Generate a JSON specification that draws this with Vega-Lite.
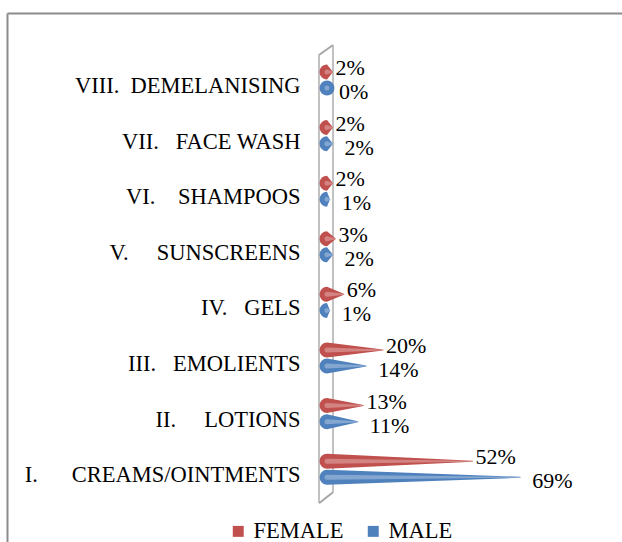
{
  "$schema": "https://vega.github.io/schema/vega-lite/v6.json",
  "autosize": "none",
  "width": 615,
  "height": 529,
  "padding": {"left": 7, "top": 13, "right": 0, "bottom": 0},
  "background": "white",
  "config": {"view": {"stroke": null}, "font": "Liberation Serif", "text": {"font": "Liberation Serif"}},
  "data": {
    "values": [
      {"category": "VIII.\u00a0\u00a0DEMELANISING", "sex": "FEMALE", "value": 0.02},
      {"category": "VIII.\u00a0\u00a0DEMELANISING", "sex": "MALE", "value": 0.0},
      {"category": "VII.\u00a0\u00a0\u00a0FACE WASH", "sex": "FEMALE", "value": 0.02},
      {"category": "VII.\u00a0\u00a0\u00a0FACE WASH", "sex": "MALE", "value": 0.02},
      {"category": "VI.\u00a0\u00a0\u00a0\u00a0SHAMPOOS", "sex": "FEMALE", "value": 0.02},
      {"category": "VI.\u00a0\u00a0\u00a0\u00a0SHAMPOOS", "sex": "MALE", "value": 0.01},
      {"category": "V.\u00a0\u00a0\u00a0\u00a0\u00a0SUNSCREENS", "sex": "FEMALE", "value": 0.03},
      {"category": "V.\u00a0\u00a0\u00a0\u00a0\u00a0SUNSCREENS", "sex": "MALE", "value": 0.02},
      {"category": "IV.\u00a0\u00a0\u00a0GELS", "sex": "FEMALE", "value": 0.06},
      {"category": "IV.\u00a0\u00a0\u00a0GELS", "sex": "MALE", "value": 0.01},
      {"category": "III.\u00a0\u00a0\u00a0EMOLIENTS", "sex": "FEMALE", "value": 0.20},
      {"category": "III.\u00a0\u00a0\u00a0EMOLIENTS", "sex": "MALE", "value": 0.14},
      {"category": "II.\u00a0\u00a0\u00a0\u00a0\u00a0LOTIONS", "sex": "FEMALE", "value": 0.13},
      {"category": "II.\u00a0\u00a0\u00a0\u00a0\u00a0LOTIONS", "sex": "MALE", "value": 0.11},
      {"category": "I.\u00a0\u00a0\u00a0\u00a0\u00a0\u00a0CREAMS/OINTMENTS", "sex": "FEMALE", "value": 0.52},
      {"category": "I.\u00a0\u00a0\u00a0\u00a0\u00a0\u00a0CREAMS/OINTMENTS", "sex": "MALE", "value": 0.69}
    ]
  },
  "layer": [
    {
      "transform": [{"aggregate": [{"op": "count", "as": "n"}]}],
      "mark": {"type": "tick", "orient": "vertical", "color": "#a6a6a6", "thickness": 2, "size": 448, "xOffset": -5, "yOffset": 32},
      "encoding": {
        "x": {"datum": 0, "type": "quantitative", "scale": {"domain": [-1.1321, 1.0643], "nice": false, "zero": false}, "axis": {"orient": "top", "title": null, "labels": false, "ticks": false, "grid": false, "domainColor": "#8c8c8c", "domainWidth": 2}},
        "y": {
          "datum": "V.\u00a0\u00a0\u00a0\u00a0\u00a0SUNSCREENS",
          "type": "nominal",
          "sort": ["VIII.\u00a0\u00a0DEMELANISING", "VII.\u00a0\u00a0\u00a0FACE WASH", "VI.\u00a0\u00a0\u00a0\u00a0SHAMPOOS", "V.\u00a0\u00a0\u00a0\u00a0\u00a0SUNSCREENS", "IV.\u00a0\u00a0\u00a0GELS", "III.\u00a0\u00a0\u00a0EMOLIENTS", "II.\u00a0\u00a0\u00a0\u00a0\u00a0LOTIONS", "I.\u00a0\u00a0\u00a0\u00a0\u00a0\u00a0CREAMS/OINTMENTS"],
          "scale": {"paddingInner": 0.42, "paddingOuter": 0.967, "align": 0.473},
          "axis": {
            "title": null,
            "ticks": false,
            "domainColor": "#8c8c8c",
            "domainWidth": 2,
            "labelFont": "Liberation Serif",
            "labelFontSize": 22.5,
            "labelColor": "black",
            "labelPadding": -293,
            "labelOffset": 6,
            "labelLimit": 400
          }
        }
      }
    },
    {
      "transform": [{"aggregate": [{"op": "count", "as": "n"}]}],
      "mark": {"type": "tick", "orient": "vertical", "color": "#a6a6a6", "thickness": 2, "size": 447, "xOffset": 9, "yOffset": 22},
      "encoding": {
        "x": {"datum": 0, "type": "quantitative"},
        "y": {"datum": "V.\u00a0\u00a0\u00a0\u00a0\u00a0SUNSCREENS", "type": "nominal", "sort": ["VIII.\u00a0\u00a0DEMELANISING", "VII.\u00a0\u00a0\u00a0FACE WASH", "VI.\u00a0\u00a0\u00a0\u00a0SHAMPOOS", "V.\u00a0\u00a0\u00a0\u00a0\u00a0SUNSCREENS", "IV.\u00a0\u00a0\u00a0GELS", "III.\u00a0\u00a0\u00a0EMOLIENTS", "II.\u00a0\u00a0\u00a0\u00a0\u00a0LOTIONS", "I.\u00a0\u00a0\u00a0\u00a0\u00a0\u00a0CREAMS/OINTMENTS"]}
      }
    },
    {
      "transform": [{"aggregate": [{"op": "count", "as": "n"}]}],
      "mark": {"type": "rule", "color": "#a6a6a6", "strokeWidth": 2, "xOffset": -5, "x2Offset": 9, "yOffset": -25, "y2Offset": -35},
      "encoding": {
        "x": {"datum": 0, "type": "quantitative"},
        "x2": {"datum": 0},
        "y": {"datum": "VIII.\u00a0\u00a0DEMELANISING", "type": "nominal", "sort": ["VIII.\u00a0\u00a0DEMELANISING", "VII.\u00a0\u00a0\u00a0FACE WASH", "VI.\u00a0\u00a0\u00a0\u00a0SHAMPOOS", "V.\u00a0\u00a0\u00a0\u00a0\u00a0SUNSCREENS", "IV.\u00a0\u00a0\u00a0GELS", "III.\u00a0\u00a0\u00a0EMOLIENTS", "II.\u00a0\u00a0\u00a0\u00a0\u00a0LOTIONS", "I.\u00a0\u00a0\u00a0\u00a0\u00a0\u00a0CREAMS/OINTMENTS"]},
        "y2": {"datum": "VIII.\u00a0\u00a0DEMELANISING"}
      }
    },
    {
      "transform": [{"aggregate": [{"op": "count", "as": "n"}]}],
      "mark": {"type": "rule", "color": "#a6a6a6", "strokeWidth": 2, "xOffset": 9, "x2Offset": -5, "yOffset": 23, "y2Offset": 34},
      "encoding": {
        "x": {"datum": 0, "type": "quantitative"},
        "x2": {"datum": 0},
        "y": {"datum": "I.\u00a0\u00a0\u00a0\u00a0\u00a0\u00a0CREAMS/OINTMENTS", "type": "nominal", "sort": ["VIII.\u00a0\u00a0DEMELANISING", "VII.\u00a0\u00a0\u00a0FACE WASH", "VI.\u00a0\u00a0\u00a0\u00a0SHAMPOOS", "V.\u00a0\u00a0\u00a0\u00a0\u00a0SUNSCREENS", "IV.\u00a0\u00a0\u00a0GELS", "III.\u00a0\u00a0\u00a0EMOLIENTS", "II.\u00a0\u00a0\u00a0\u00a0\u00a0LOTIONS", "I.\u00a0\u00a0\u00a0\u00a0\u00a0\u00a0CREAMS/OINTMENTS"]},
        "y2": {"datum": "I.\u00a0\u00a0\u00a0\u00a0\u00a0\u00a0CREAMS/OINTMENTS"}
      }
    },
    {
      "transform": [
        {"impute": "value", "key": "stage", "keyvals": ["base"], "groupby": ["category", "sex"], "value": 0}
      ],
      "mark": {"type": "trail", "xOffset": 3},
      "encoding": {
        "x": {"field": "value", "type": "quantitative"},
        "y": {"field": "category", "type": "nominal", "sort": ["VIII.\u00a0\u00a0DEMELANISING", "VII.\u00a0\u00a0\u00a0FACE WASH", "VI.\u00a0\u00a0\u00a0\u00a0SHAMPOOS", "V.\u00a0\u00a0\u00a0\u00a0\u00a0SUNSCREENS", "IV.\u00a0\u00a0\u00a0GELS", "III.\u00a0\u00a0\u00a0EMOLIENTS", "II.\u00a0\u00a0\u00a0\u00a0\u00a0LOTIONS", "I.\u00a0\u00a0\u00a0\u00a0\u00a0\u00a0CREAMS/OINTMENTS"]},
        "yOffset": {"field": "sex", "type": "nominal", "sort": ["FEMALE", "MALE"], "scale": {"paddingInner": 0.05}},
        "color": {
          "field": "sex",
          "type": "nominal",
          "scale": {"domain": ["FEMALE", "MALE"], "range": ["#C0504D", "#4F81BD"]},
          "legend": {
            "title": null,
            "orient": "none",
            "legendX": 220,
            "legendY": 507,
            "direction": "horizontal",
            "symbolType": "square",
            "symbolSize": 120,
            "labelFont": "Liberation Serif",
            "labelFontSize": 22.5,
            "labelColor": "black",
            "columnPadding": 18,
            "encode": {
              "symbols": {
                "update": {
                  "fill": {"scale": "color", "field": "value"},
                  "fillOpacity": {"value": 1},
                  "strokeWidth": {"value": 0}
                }
              }
            }
          }
        },
        "detail": {"field": "category"},
        "size": {"condition": {"test": "datum.stage === 'base'", "value": 15}, "value": 0}
      }
    },
    {
      "transform": [
        {"impute": "value", "key": "stage", "keyvals": ["base"], "groupby": ["category", "sex"], "value": 0}
      ],
      "mark": {"type": "trail", "color": "white", "opacity": 0.3, "xOffset": 3, "yOffset": -2},
      "encoding": {
        "x": {"field": "value", "type": "quantitative"},
        "y": {"field": "category", "type": "nominal", "sort": ["VIII.\u00a0\u00a0DEMELANISING", "VII.\u00a0\u00a0\u00a0FACE WASH", "VI.\u00a0\u00a0\u00a0\u00a0SHAMPOOS", "V.\u00a0\u00a0\u00a0\u00a0\u00a0SUNSCREENS", "IV.\u00a0\u00a0\u00a0GELS", "III.\u00a0\u00a0\u00a0EMOLIENTS", "II.\u00a0\u00a0\u00a0\u00a0\u00a0LOTIONS", "I.\u00a0\u00a0\u00a0\u00a0\u00a0\u00a0CREAMS/OINTMENTS"]},
        "yOffset": {"field": "sex", "type": "nominal", "sort": ["FEMALE", "MALE"], "scale": {"paddingInner": 0.05}},
        "detail": [{"field": "category"}, {"field": "sex"}],
        "size": {"condition": {"test": "datum.stage === 'base'", "value": 5}, "value": 0}
      }
    },
    {
      "transform": [{"filter": "datum.sex === 'FEMALE'"}],
      "mark": {"type": "text", "align": "left", "baseline": "middle", "dx": 6, "dy": -4, "font": "Liberation Serif", "fontSize": 22, "color": "black"},
      "encoding": {
        "x": {"field": "value", "type": "quantitative"},
        "y": {"field": "category", "type": "nominal", "sort": ["VIII.\u00a0\u00a0DEMELANISING", "VII.\u00a0\u00a0\u00a0FACE WASH", "VI.\u00a0\u00a0\u00a0\u00a0SHAMPOOS", "V.\u00a0\u00a0\u00a0\u00a0\u00a0SUNSCREENS", "IV.\u00a0\u00a0\u00a0GELS", "III.\u00a0\u00a0\u00a0EMOLIENTS", "II.\u00a0\u00a0\u00a0\u00a0\u00a0LOTIONS", "I.\u00a0\u00a0\u00a0\u00a0\u00a0\u00a0CREAMS/OINTMENTS"]},
        "yOffset": {"field": "sex", "type": "nominal", "sort": ["FEMALE", "MALE"], "scale": {"paddingInner": 0.05}},
        "text": {"field": "value", "format": ".0%"}
      }
    },
    {
      "transform": [{"filter": "datum.sex === 'MALE'"}],
      "mark": {"type": "text", "align": "left", "baseline": "middle", "dx": 15, "dy": 4, "font": "Liberation Serif", "fontSize": 22, "color": "black"},
      "encoding": {
        "x": {"field": "value", "type": "quantitative"},
        "y": {"field": "category", "type": "nominal", "sort": ["VIII.\u00a0\u00a0DEMELANISING", "VII.\u00a0\u00a0\u00a0FACE WASH", "VI.\u00a0\u00a0\u00a0\u00a0SHAMPOOS", "V.\u00a0\u00a0\u00a0\u00a0\u00a0SUNSCREENS", "IV.\u00a0\u00a0\u00a0GELS", "III.\u00a0\u00a0\u00a0EMOLIENTS", "II.\u00a0\u00a0\u00a0\u00a0\u00a0LOTIONS", "I.\u00a0\u00a0\u00a0\u00a0\u00a0\u00a0CREAMS/OINTMENTS"]},
        "yOffset": {"field": "sex", "type": "nominal", "sort": ["FEMALE", "MALE"], "scale": {"paddingInner": 0.05}},
        "text": {"field": "value", "format": ".0%"}
      }
    }
  ]
}
